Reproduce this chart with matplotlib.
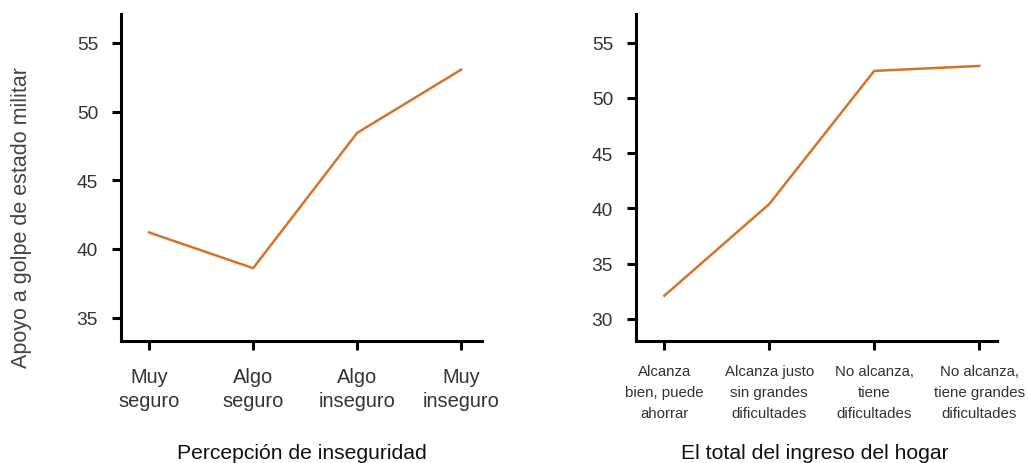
import matplotlib
matplotlib.use("Agg")
import matplotlib.pyplot as plt

plt.rcParams['font.family'] = ['Liberation Sans', 'DejaVu Sans']

cats_left = ["Muy\nseguro", "Algo\nseguro", "Algo\ninseguro", "Muy\ninseguro"]
vals_left = [41.2, 38.6, 48.45, 53.05]
yticks_left = [35, 40, 45, 50, 55]

cats_right = ["Alcanza\nbien, puede\nahorrar", "Alcanza justo\nsin grandes\ndificultades",
              "No alcanza,\ntiene\ndificultades", "No alcanza,\ntiene grandes\ndificultades"]
vals_right = [32.1, 40.4, 52.45, 52.9]
yticks_right = [30, 35, 40, 45, 50, 55]

line_color = "#D2752B"
text_color = "#333333"
W, H = 1028, 464

fig = plt.figure(figsize=(W/100, H/100), dpi=100)
ax1 = fig.add_axes([121/W, 1-342/H, (482-121)/W, (342-15)/H])
ax2 = fig.add_axes([636/W, 1-342/H, (997-636)/W, (342-15)/H])

def style(ax, xlabsize, ls, xpad):
    for s in ["top", "right"]:
        ax.spines[s].set_visible(False)
    for s in ["left", "bottom"]:
        ax.spines[s].set_linewidth(2.2)
        ax.spines[s].set_color("black")
    ax.tick_params(axis="both", width=2.2, length=6.5, color="black", labelcolor=text_color)
    ax.tick_params(axis="y", labelsize=13.8, pad=10)
    ax.tick_params(axis="x", labelsize=xlabsize, pad=xpad)
    for t in ax.get_xticklabels():
        t.set_linespacing(ls)

ax1.plot(range(len(vals_left)), vals_left, color=line_color, lw=1.8)
ax1.set_xticks(range(len(cats_left)))
ax1.set_xticklabels(cats_left)
ax1.set_yticks(yticks_left)
ax1.set_xlim(-0.27, 3.2)
ax1.set_ylim(33.3, 57.1)
style(ax1, 14.4, 1.36, 12)

ax2.plot(range(len(vals_right)), vals_right, color=line_color, lw=1.8)
ax2.set_xticks(range(len(cats_right)))
ax2.set_xticklabels(cats_right)
ax2.set_yticks(yticks_right)
ax2.set_xlim(-0.27, 3.17)
ax2.set_ylim(28.0, 57.6)
style(ax2, 10.8, 1.65, 10)

fig.text(22/W, 1-218/H, "Apoyo a golpe de estado militar", rotation=90,
         ha="center", va="center", fontsize=15.5, color="#444444")
fig.text(302/W, 5/H, "Percepción de inseguridad", ha="center", va="baseline",
         fontsize=15.2, color="#111111")
fig.text(815/W, 5/H, "El total del ingreso del hogar", ha="center", va="baseline",
         fontsize=15.2, color="#111111")

fig.savefig("out.png", dpi=100)
